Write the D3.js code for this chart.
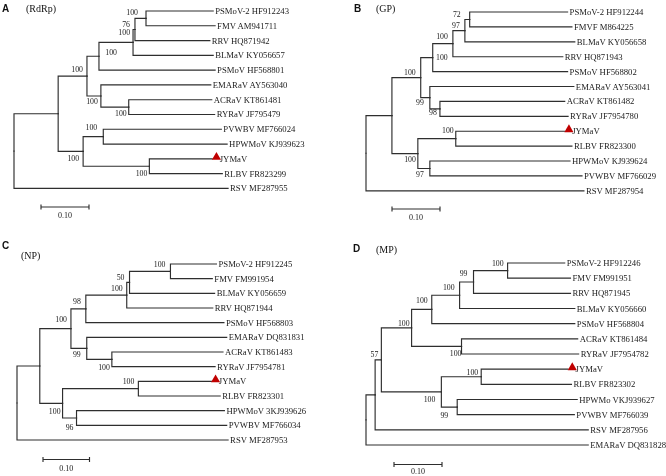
<!DOCTYPE html>
<html><head><meta charset="utf-8">
<script src="https://cdn.jsdelivr.net/npm/d3@7"></script>
<style>html,body{margin:0;padding:0;background:#fff;}svg{display:block;will-change:transform;}</style>
</head><body>
<svg id="chart" width="666" height="476"></svg>
<script>
// ---------- DATA ----------
const panelLetters = ["A", "B", "C", "D"];
const geneLabels = ["(RdRp)", "(GP)", "(NP)", "(MP)"];
const markedTaxon = "JYMaV";
const scaleBarValue = 0.1;
const scaleBarLabel = "0.10";
// Trees in Newick format: branch lengths (substitutions/site), bootstrap values on internal nodes
const treeA = "(((((((PSMoV-2 HF912243:0.140,FMV AM941711:0.144)100:0.023,RRV HQ871942:0.156)76:0.004,BLMaV KY056657:0.167)100:0.071,PSMoV HF568801:0.242)100:0.025,(EMARaV AY563040:0.229,(ACRaV KT861481:0.173,RYRaV JF795479:0.179)100:0.058)100:0.029)100:0.060,((PVWBV MF766024:0.246,HPWMoV KJ939623:0.258)100:0.042,(JYMaV:0.131,RLBV FR823299:0.152)100:0.138)100:0.052):0.092,RSV MF287955:0.446);";
const treeB = "(((((((PSMoV-2 HF912244:0.204,FMVF M864225:0.213)72:0.010,BLMaV KY056658:0.229)97:0.025,RRV HQ871943:0.229)100:0.042,PSMoV HF568802:0.281)100:0.025,(EMARaV AY563041:0.300,(ACRaV KT861482:0.260,RYRaV JF7954780:0.267)98:0.021)99:0.019)100:0.060,((JYMaV:0.227,RLBV FR823300:0.242)100:0.079,(HPWMoV KJ939624:0.292,PVWBV MF766029:0.317)97:0.025)100:0.054):0.054,RSV MF287954:0.454);";
const treeC = "(((((((PSMoV-2 HF912245:0.099,FMV FM991954:0.090)100:0.088,BLMaV KY056659:0.183)50:0.006,RRV HQ871944:0.185)100:0.088,PSMoV HF568803:0.297)98:0.032,(EMARaV DQ831831:0.301,(ACRaV KT861483:0.239,RYRaV JF7954781:0.222)100:0.054)99:0.034)100:0.067,((JYMaV:0.157,RLBV FR823301:0.176)100:0.163,(HPWMoV 3KJ939626:0.318,PVWBV MF766034:0.323)96:0.030)100:0.049):0.049,RSV MF287953:0.454);";
const treeD = "((((((((PSMoV-2 HF912246:0.119,FMV FM991951:0.131)100:0.071,RRV HQ871945:0.202)99:0.029,BLMaV KY056660:0.240)100:0.058,PSMoV HF568804:0.298)100:0.042,(ACRaV KT861484:0.242,RYRaV JF7954782:0.244)100:0.104)100:0.063,((JYMaV:0.181,RLBV FR823302:0.188)100:0.083,(HPWMo VKJ939627:0.250,PVWBV MF766039:0.244)99:0.033)100:0.125)57:0.013,RSV MF287956:0.444):0.019,EMARaV DQ831828:0.463);";
const trees = [treeA, treeB, treeC, treeD];

// ---------- LAYOUT (positions / sizes) ----------
const layout = [
  { x0: 14, pxPerTenth: 48, yTop: 11, yBot: 188.4,
    letter: [2, 8], gene: [26, 8], bar: [41, 207], barLabelDy: 8.5,
    labelOffsets: [[-8,-5.5],[-5,-5.3],[-3,-10],[18,-4],[-2,6],[-3,5],[-4,-7],[-6,-9.6],[-2,7],[-4,6.6]] },
  { x0: 366, pxPerTenth: 48, yTop: 12, yBot: 190.8,
    letter: [354, 8], gene: [376, 8], bar: [392, 209], barLabelDy: 8.5,
    labelOffsets: [[-9,-4.5],[-5,-5.6],[-5,-6.7],[15,-0.6],[-3,4],[-6,5.3],[-5,-4.7],[-2,-7.7],[-6,6.5],[-2,6.4]] },
  { x0: 17, pxPerTenth: 46.5, yTop: 264, yBot: 440,
    letter: [2, 245], gene: [21, 255.5], bar: [43, 459.5], barLabelDy: 8.5,
    labelOffsets: [[-5,-7.3],[-5,-5.3],[-4,-6.2],[-5,-7],[-2,8.6],[-6,6.6],[-4,-8.7],[-4,-6.7],[-3,9],[-2,8.6]] },
  { x0: 366, pxPerTenth: 48, yTop: 263, yBot: 445,
    letter: [353, 248.5], gene: [376, 249], bar: [394, 464.5], barLabelDy: 7,
    labelOffsets: [[-4,-6.6],[-6,-8],[-5,-8.2],[-4,-8.5],[0,7.5],[-2,-4],[-3,-3.8],[-9,8],[-6,8],[-3,-5.5]] }
];

const serif = "'Liberation Serif','Times New Roman',Times,serif";
const sans = "'Liberation Sans',Arial,Helvetica,sans-serif";
const lineColor = "#2e2e2e";

function parseNewick(s) {
  let i = 0;
  function node() {
    const n = { children: [] };
    if (s[i] === "(") {
      i++;
      n.children.push(node());
      while (s[i] === ",") { i++; n.children.push(node()); }
      i++;
    }
    let name = "";
    while (i < s.length && !":,);".includes(s[i])) name += s[i++];
    name = name.trim();
    if (n.children.length) { if (name) n.support = name; } else n.name = name;
    if (s[i] === ":") {
      i++;
      let num = "";
      while (i < s.length && !",);".includes(s[i])) num += s[i++];
      n.length = +num;
    } else n.length = 0;
    return n;
  }
  return node();
}

const svg = d3.select("#chart");
svg.append("rect").attr("width", 666).attr("height", 476).attr("fill", "#fff");

trees.forEach((nw, p) => {
  const L = layout[p];
  const g = svg.append("g");
  const root = d3.hierarchy(parseNewick(nw), d => d.children.length ? d.children : null);
  root.eachBefore(d => { d.len = d.parent ? d.parent.len + d.data.length : 0; });

  const x = d3.scaleLinear().domain([0, scaleBarValue]).range([L.x0, L.x0 + L.pxPerTenth]);
  const leaves = root.leaves();
  const y = d3.scalePoint().domain(leaves.map(d => d.data.name)).range([L.yTop, L.yBot]);

  root.eachAfter(d => {
    d.px = x(d.len);
    if (d.children) d.py = (d.children[0].py + d.children[d.children.length - 1].py) / 2;
    else d.py = y(d.data.name);
  });

  // branches (rectangular phylogram)
  g.append("g").selectAll("path")
    .data(root.descendants().filter(d => d.parent))
    .join("path")
    .attr("d", d => `M${d.parent.px},${d.parent.py}V${d.py}H${d.px}`)
    .attr("fill", "none")
    .attr("stroke", lineColor)
    .attr("stroke-width", 1.15)
    .attr("stroke-linecap", "square");

  // leaf labels + marker
  leaves.forEach(d => {
    const marked = d.data.name === markedTaxon;
    if (marked) {
      g.append("path")
        .attr("d", d3.symbol().type(d3.symbolTriangle).size(36)())
        .attr("transform", `translate(${d.px + 4.2},${d.py - 1.6})`)
        .attr("fill", "#c00000");
    }
    g.append("text")
      .attr("x", d.px + (marked ? 7.5 : 2))
      .attr("y", d.py)
      .attr("dominant-baseline", "central")
      .attr("font-family", serif)
      .attr("font-size", 8.7)
      .attr("fill", "#1a1a1a")
      .text(d.data.name);
  });

  // bootstrap values
  const labeled = [];
  root.eachAfter(d => { if (d.children && d.data.support) labeled.push(d); });
  labeled.forEach((d, k) => {
    const off = L.labelOffsets[k] || [-3, -6];
    g.append("text")
      .attr("x", d.px + off[0])
      .attr("y", d.py + off[1])
      .attr("text-anchor", "end")
      .attr("dominant-baseline", "central")
      .attr("font-family", serif)
      .attr("font-size", 7.8)
      .attr("fill", "#1a1a1a")
      .text(d.data.support);
  });

  // titles
  g.append("text").attr("x", L.letter[0]).attr("y", L.letter[1])
    .attr("dominant-baseline", "central").attr("font-family", sans)
    .attr("font-weight", "bold").attr("font-size", 10).attr("fill", "#111")
    .text(panelLetters[p]);
  g.append("text").attr("x", L.gene[0]).attr("y", L.gene[1])
    .attr("dominant-baseline", "central").attr("font-family", serif)
    .attr("font-size", 10).attr("fill", "#111")
    .text(geneLabels[p]);

  // scale bar
  const bx0 = L.bar[0], bw = x(scaleBarValue) - x(0), by = L.bar[1];
  const sb = g.append("g").attr("stroke", lineColor).attr("stroke-width", 1.15);
  sb.append("line").attr("x1", bx0).attr("x2", bx0 + bw).attr("y1", by).attr("y2", by);
  sb.append("line").attr("x1", bx0).attr("x2", bx0).attr("y1", by - 2.5).attr("y2", by + 2.5);
  sb.append("line").attr("x1", bx0 + bw).attr("x2", bx0 + bw).attr("y1", by - 2.5).attr("y2", by + 2.5);
  g.append("text").attr("x", bx0 + bw / 2).attr("y", by + L.barLabelDy)
    .attr("text-anchor", "middle").attr("dominant-baseline", "central")
    .attr("font-family", serif).attr("font-size", 8).attr("fill", "#1a1a1a")
    .text(scaleBarLabel);
});
</script>
</body></html>
